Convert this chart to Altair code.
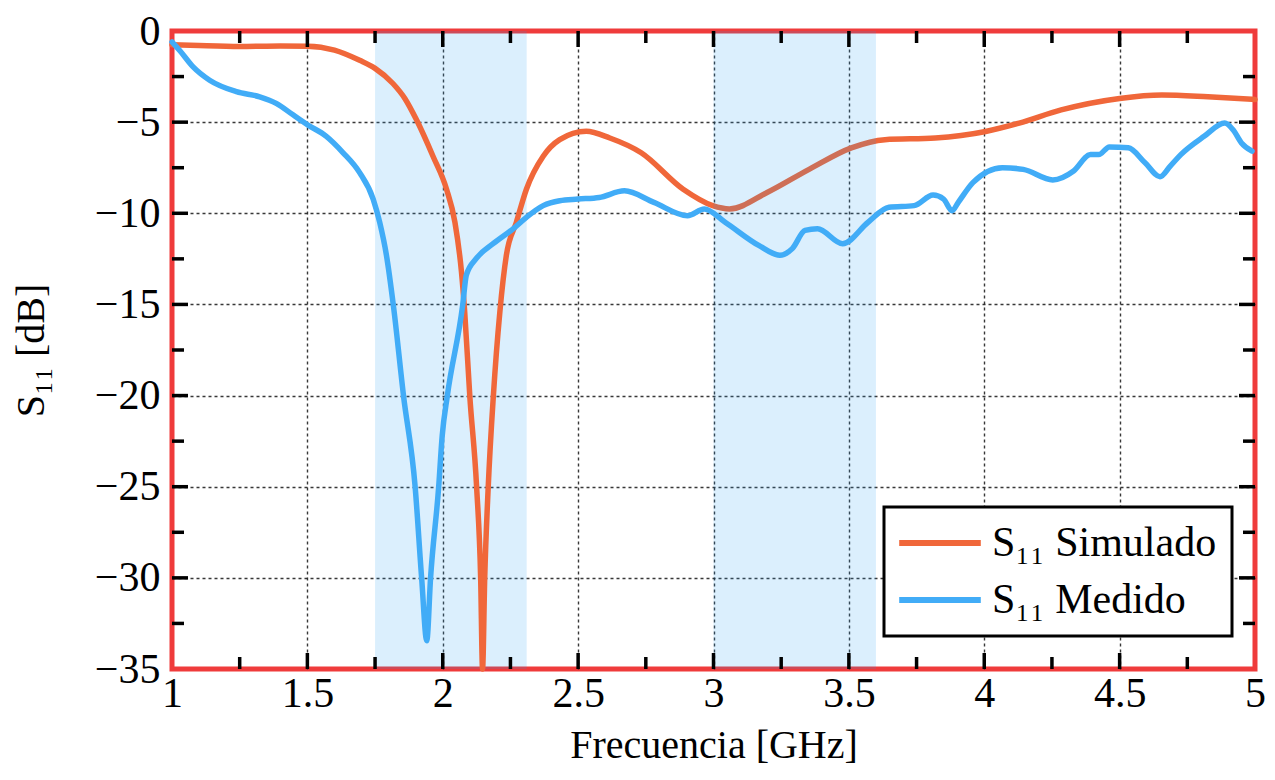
import altair as alt
import pandas as pd

# ---------------- data ----------------
freq_sim = [1.00, 1.10, 1.25, 1.40, 1.50, 1.60, 1.693, 1.75, 1.816, 1.86, 1.903, 1.964,
            2.014, 2.045, 2.069, 2.081, 2.10, 2.125, 2.140, 2.147, 2.155, 2.168, 2.187,
            2.211, 2.235, 2.272, 2.309, 2.371, 2.432, 2.53, 2.617, 2.733, 2.888, 2.997,
            3.059, 3.198, 3.353, 3.509, 3.633, 3.819, 4.005, 4.129, 4.284, 4.50, 4.656,
            4.826, 5.00]
s11_sim = [-0.75, -0.80, -0.85, -0.82, -0.83, -1.05, -1.61, -2.05, -2.88, -3.70, -4.87, -6.87,
           -8.68, -10.49, -13.2, -15.4, -20.05, -25.0, -30.0, -35.0, -30.0, -25.0, -20.0,
           -15.4, -12.3, -10.49, -8.68, -6.87, -5.96, -5.50, -5.87, -6.68, -8.68, -9.58,
           -9.76, -8.86, -7.59, -6.41, -5.96, -5.87, -5.51, -5.05, -4.33, -3.70, -3.51,
           -3.61, -3.76]

freq_meas = [1.00, 1.03, 1.078, 1.139, 1.238, 1.324, 1.385, 1.447, 1.50, 1.57, 1.632, 1.693,
             1.743, 1.767, 1.792, 1.818, 1.855, 1.898, 1.922, 1.941, 1.955, 1.985, 1.998,
             2.017, 2.074, 2.087, 2.124, 2.186, 2.26, 2.309, 2.371, 2.432, 2.50, 2.578,
             2.671, 2.78, 2.904, 2.966, 3.043, 3.167, 3.245, 3.291, 3.338, 3.384, 3.477,
             3.571, 3.648, 3.741, 3.811, 3.85, 3.881, 3.904, 3.958, 4.067, 4.144, 4.253,
             4.33, 4.392, 4.423, 4.462, 4.532, 4.594, 4.649, 4.687, 4.726, 4.812, 4.888,
             4.919, 4.95, 4.989]
s11_meas = [-0.60, -1.10, -1.97, -2.70, -3.33, -3.61, -3.97, -4.60, -5.14, -5.78, -6.68, -7.77,
            -9.22, -10.49, -12.3, -15.1, -20.0, -25.0, -30.0, -33.45, -30.0, -25.0, -22.2,
            -20.0, -15.0, -13.39, -12.48, -11.67, -10.85, -10.22, -9.58, -9.31, -9.22, -9.13,
            -8.77, -9.40, -10.13, -9.76, -10.49, -11.76, -12.3, -11.94, -10.94, -10.85, -11.67,
            -10.49, -9.67, -9.58, -9.00, -9.22, -9.86, -9.40, -8.32, -7.50, -7.59, -8.17,
            -7.68, -6.78, -6.78, -6.36, -6.41, -7.23, -7.99, -7.41, -6.78, -5.78, -5.05,
            -5.42, -6.14, -6.59]

band_start = [1.75, 3.0]
band_end = [2.31, 3.6]

series_names = ["S\u2081\u2081 Simulado", "S\u2081\u2081 Medido"]
series_colors = ["#F0673A", "#41ACF7"]

x_major = [1.0, 1.5, 2.0, 2.5, 3.0, 3.5, 4.0, 4.5, 5.0]
x_minor = [1.25, 1.75, 2.25, 2.75, 3.25, 3.75, 4.25, 4.75]
y_major = [0, -5, -10, -15, -20, -25, -30, -35]
y_minor = [-2.5, -7.5, -12.5, -17.5, -22.5, -27.5, -32.5]

x_title = "Frecuencia [GHz]"
y_title = "S\u2081\u2081 [dB]"

# ---------------- chart ----------------
W, H = 1083, 638
FONT = "Liberation Serif"
XMIN, XMAX = x_major[0], x_major[-1]
YMIN, YMAX = y_major[-1], y_major[0]

sim_df = pd.DataFrame({"f": freq_sim, "s": s11_sim, "serie": series_names[0]})
meas_df = pd.DataFrame({"f": freq_meas, "s": s11_meas, "serie": series_names[1]})
bands_df = pd.DataFrame({"a": band_start, "b": band_end, "i": list(range(len(band_start)))})

xscale = alt.Scale(domain=[XMIN, XMAX], nice=False, zero=False)
yscale = alt.Scale(domain=[YMIN, YMAX], nice=False, zero=False)

x_axis = alt.Axis(
    values=x_major, format="~g", title=x_title, labelPadding=4,
    titleY=88, titleBaseline="alphabetic",
    gridOpacity={"condition": {"test": f"datum.value <= {XMIN} || datum.value >= {XMAX}",
                               "value": 0}, "value": 0.9},
)
y_axis = alt.Axis(
    values=y_major, format="~g", title=y_title, labelPadding=12,
    titleX=-129, titleY=319, titleBaseline="alphabetic", titleAngle=270, titleAlign="center",
    gridOpacity={"condition": {"test": f"datum.value <= {YMIN} || datum.value >= {YMAX}",
                               "value": 0}, "value": 0.9},
)

color = alt.Color(
    "serie:N",
    scale=alt.Scale(domain=series_names, range=series_colors),
    legend=alt.Legend(
        title=None, orient="none", legendX=712, legendY=476,
        symbolType="M-1.3,0H3.8", symbolSize=1024, symbolStrokeWidth=6,
        labelFontSize=42, labelFont=FONT, labelOffset=51, labelLimit=500,
        rowPadding=15, padding=15, strokeColor="black", fillColor="white",
        cornerRadius=0,
    ),
)

def X(field):
    return alt.X(field, scale=xscale, axis=x_axis)

def Y(field):
    return alt.Y(field, scale=yscale, axis=y_axis)

def band_layer(idx):
    return (
        alt.Chart(bands_df)
        .transform_filter(alt.datum.i == idx)
        .mark_rect(color="#1E9BF0", opacity=0.16)
        .encode(x=X("a:Q"), x2="b:Q", y=alt.value(0), y2=alt.value(H))
    )

def line_layer(df):
    return (
        alt.Chart(df)
        .mark_line(strokeWidth=5.5, interpolate="monotone", strokeCap="round", strokeJoin="round")
        .encode(x=X("f:Q"), y=Y("s:Q"), color=color)
    )

def xticks(vals, length):
    df = pd.DataFrame({"v": vals})
    base = (alt.Chart(df)
            .transform_filter(f"datum.v > {XMIN} && datum.v < {XMAX}")
            .mark_rule(color="black", strokeWidth=3.5))
    bottom = base.encode(x=X("v:Q"), y=alt.value(H), y2=alt.value(H - length))
    top = base.encode(x=X("v:Q"), y=alt.value(0), y2=alt.value(length))
    return [bottom, top]

def yticks(vals, length):
    df = pd.DataFrame({"v": vals})
    base = (alt.Chart(df)
            .transform_filter(f"datum.v > {YMIN} && datum.v < {YMAX}")
            .mark_rule(color="black", strokeWidth=3.5))
    left = base.encode(y=Y("v:Q"), x=alt.value(0), x2=alt.value(length))
    right = base.encode(y=Y("v:Q"), x=alt.value(W), x2=alt.value(W - length))
    return [left, right]

layers = [band_layer(0), line_layer(sim_df), band_layer(1), line_layer(meas_df)]
layers += xticks(x_major, 16) + xticks(x_minor, 12) + yticks(y_major, 16) + yticks(y_minor, 12)

chart = (
    alt.layer(*layers)
    .properties(
        width=W, height=H,
        autosize=alt.AutoSizeParams(type="none"),
        padding={"left": 164, "top": 23, "right": 11, "bottom": 98},
    )
    .configure(font=FONT)
    .configure_view(stroke="#EF3B3B", strokeWidth=5)
    .configure_axis(
        domain=False, ticks=False, tickSize=0, grid=True,
        gridColor="#222222", gridDash=[3, 3], gridWidth=1.4,
        labelFont=FONT, labelFontSize=42, labelColor="black",
        titleFont=FONT, titleFontSize=40, titleFontWeight="normal", titleColor="black",
        labelFlush=False, labelOverlap=False,
    )
    .configure_legend(strokeWidth=3)
)

chart.save("out.html", embed_options={"renderer": "svg", "actions": False})
